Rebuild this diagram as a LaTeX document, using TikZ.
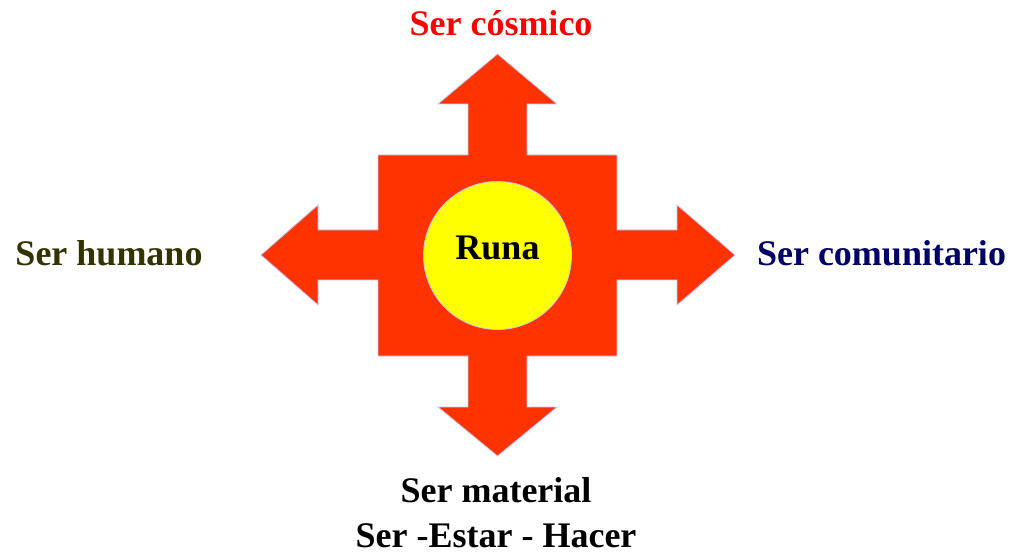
\documentclass[tikz,border=0pt]{standalone}
\usepackage{fontspec}
\setmainfont{Liberation Serif}
\usepackage{tikz}
\usetikzlibrary{positioning}

\definecolor{crossred}{HTML}{FF3300}
\definecolor{rim}{HTML}{C8C8F4}
\definecolor{olive}{HTML}{333300}
\definecolor{navy}{HTML}{000066}
\definecolor{sun}{HTML}{FFFF00}

\tikzset{
  lbl/.style={anchor=base,font=\fontsize{36}{46}\selectfont\bfseries,inner sep=0pt},
  disc/.style={circle,draw=rim,fill=sun,line width=0.8pt,minimum size=148pt,inner sep=0pt}
}

\begin{document}
\begin{tikzpicture}[x=1pt,y=-1pt]
  \useasboundingbox[fill=white] (0,0) rectangle (1017,553);

  % the four-way arrow
  \draw[fill=crossred,draw=rim,line width=0.8pt,line join=miter]
    (378,155) -- (468,155) -- (468,104) -- (438,104) -- (497.5,54) -- (557,104)
    -- (527,104) -- (527,155) -- (617,155) -- (617,230) -- (677,230) -- (677,205)
    -- (735,255) -- (677,305) -- (677,280) -- (617,280) -- (617,356) -- (527,356)
    -- (527,407) -- (557,407) -- (497.5,456) -- (438,407) -- (468,407) -- (468,356)
    -- (378,356) -- (378,280) -- (318,280) -- (318,305) -- (261,255) -- (318,205)
    -- (318,230) -- (378,230) -- cycle;

  \node[disc] (runa) at (497.5,255.5) {};
  \node[lbl] (runatext) at (497.5,260) {Runa};

  \node[lbl,text=red] (cosmico) at (501,36) {Ser cósmico};
  \node[lbl,text=olive] (humano) at (109,266) {Ser humano};
  \node[lbl,text=navy] (comunitario) at (881.5,266) {Ser comunitario};
  \node[lbl] (material) at (496,502) {Ser material};
  \node[lbl] (hacer) at (496,547) {Ser -Estar - Hacer};
\end{tikzpicture}
\end{document}
